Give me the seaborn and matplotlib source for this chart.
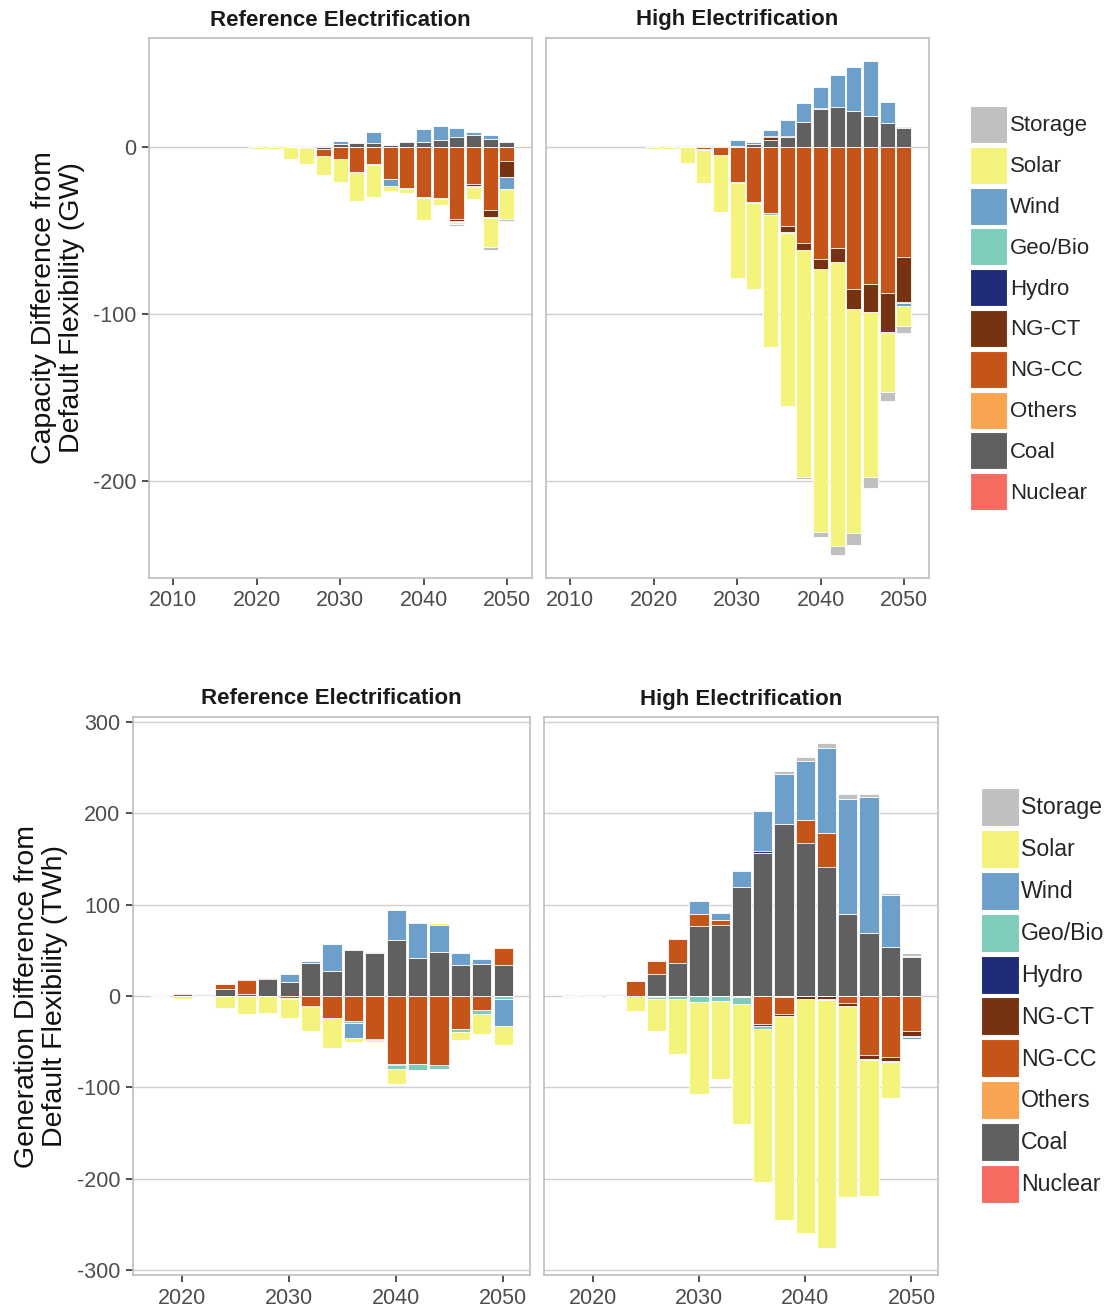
import pandas as pd
import matplotlib
matplotlib.use('Agg')
import matplotlib.pyplot as plt
from matplotlib.patches import Patch
import seaborn as sns

techs = ['Storage', 'Solar', 'Wind', 'Geo/Bio', 'Hydro', 'NG-CT', 'NG-CC', 'Others', 'Coal', 'Nuclear']
tech_colors = ['#C0C0C0', '#F4F47C', '#6CA0CB', '#7ECDBB', '#202C7A',
               '#773311', '#C55418', '#F9A451', '#606060', '#F66A60']

cap_years = list(range(2020, 2051, 2))
gen_years = list(range(2018, 2051, 2))

# capacity difference, reference electrification (GW)
cap_ref_storage = [0, 0, 0, 0, 0, 0, 0, 0, 0, 0, 0, 0, -1.0, 0, -1.8, -1.4]
cap_ref_solar = [-1.2, -1.2, -7.4, -10.0, -11.4, -13.6, -17.0, -19.0, -3.0, -2.6, -13.2, -3.8, -1.4, -7.2, -17.0, -17.8]
cap_ref_wind = [0.2, 0.2, 0, 0.2, 0, 1.8, 0, 6.6, -4.4, 0, 7.4, 8.4, 5.8, 1.8, 2.4, -7.2]
cap_ref_geobio = [0, 0, 0, 0, 0, 0, -0.4, -0.3, 0, -0.4, -0.5, -0.5, -0.4, -0.5, -0.5, -0.3]
cap_ref_hydro = [0, 0, 0, 0, 0, 0, 0, 0, 0, 0, 0, 0, 0, 0.4, 0, 0]
cap_ref_ngct = [0, 0, 0, 0, 0, 0, 0, 0, 0, 0, 0, 0, -1.2, -1.4, -4.6, -9.0]
cap_ref_ngcc = [0, 0, 0, -0.6, -4.0, -7.4, -15.0, -10.6, -19.0, -24.8, -30.0, -30.6, -43.4, -22.0, -37.6, -8.8]
cap_ref_coal = [0, 0, 0, 0, -1.4, 1.6, 2.0, 2.4, 1.2, 2.6, 3.0, 4.0, 5.6, 6.8, 4.6, 2.8]

# capacity difference, high electrification (GW)
cap_high_storage = [0, 0, 0, 0, 0, 0, 0, 0, 0, -1.2, -3.0, -5.0, -7.0, -6.4, -5.0, -4.0]
cap_high_solar = [-1.2, -1.2, -9.6, -19.6, -34.0, -56.8, -51.7, -78.7, -103.2, -135.7, -157.6, -170.0, -134.3, -98.8, -35.9, -12.0]
cap_high_wind = [0, 0, 0, 0, 0, 3.4, 1.0, 3.6, 9.6, 11.2, 12.4, 19.4, 26.4, 32.4, 12.4, -2.0]
cap_high_geobio = [0, 0, 0, -0.4, 0, -0.8, -0.6, -1.2, -0.6, 0, 0, 0, 0, 0, 0, -0.4]
cap_high_hydro = [0, 0, 0, 0, 0, 0, 0, 0.4, 0.4, 0, 0.6, 0, 0, 0, 0, 0.6]
cap_high_ngct = [0, 0, 0, -0.4, 0, 0, 0, 2.0, -3.4, -4.6, -6.0, -8.6, -12.0, -16.6, -23.4, -26.6]
cap_high_ngcc = [0, 0, 0, -1.2, -5.0, -21.1, -32.9, -39.9, -47.5, -57.3, -66.9, -60.3, -84.8, -82.2, -87.4, -66.2]
cap_high_coal = [0, 0, 0.4, 0, 0, 0.6, 1.8, 4.0, 6.0, 14.8, 22.6, 23.6, 21.2, 18.6, 14.2, 11.0]

# generation difference, reference electrification (TWh)
gen_ref_solar = [-0.5, -3.0, -1.5, -13.5, -19.3, -18.6, -20.4, -26.6, -32.8, -4.0, -2.2, -16.4, 0, 2.5, -8.4, -21.1, -20.0]
gen_ref_wind = [0, 1.0, 1.0, 0, 1.0, 0, 8.7, 2.5, 29.9, -16.8, 1.8, 33.5, 38.3, 29.5, 13.8, 5.1, -29.5]
gen_ref_geobio = [0, 0, 0, 0, 0, 0, -0.7, 0, 0, -1.8, 0, -3.6, -6.7, -4.4, -2.9, -4.4, -3.6]
gen_ref_hydro = [0, 0, 0, 0, 0, 0, 0, 0, 0, 0, 0, -1.1, 0, 0, 0, 0, 0]
gen_ref_ngct = [0, 0, 0, 0, 0, 0, 0, -0.6, 0, 0, -0.6, 0, 0, 0, 0, -0.6, 0]
gen_ref_ngcc = [0.5, 2.0, 1.5, 5.8, 15.3, 1.0, -2.5, -10.9, -24.0, -27.7, -47.0, -74.7, -74.0, -75.8, -36.4, -15.0, 18.6]
gen_ref_coal = [0, 0, 0, 7.3, 2.5, 18.6, 15.3, 35.7, 27.3, 50.3, 46.6, 60.8, 41.2, 47.7, 33.5, 35.0, 33.5]

# generation difference, high electrification (TWh)
gen_high_storage = [0, 0, 0, 0.8, 0, 0, 0, 0, 1.5, 1.0, 2.9, 4.4, 5.8, 5.1, 3.6, 2.2, 3.3]
gen_high_solar = [-0.5, -1.0, -1.0, -16.0, -35.0, -60.4, -100.4, -85.1, -130.9, -166.5, -222.5, -255.6, -271.6, -208.0, -149.0, -38.9, 1.5]
gen_high_wind = [0.5, 0, 1.0, 0, 1.5, 0, 14.5, 7.3, 17.5, 44.4, 54.5, 64.7, 93.5, 126.2, 148.0, 57.8, -2.0]
gen_high_geobio = [0, 0, 0, 0, -2.5, -3.3, -6.5, -5.5, -8.0, -4.0, 0, 0, -0.7, 0, -1.0, -0.7, -1.5]
gen_high_hydro = [0, 0, 0, 0, -1.2, 0, 0, 0, 0, 1.5, 0, 0, 0, 0, 0, 0, 0]
gen_high_ngct = [0, 0, 0, 0, 0, 0, 0, 0, 0, -1.5, -2.2, -3.5, -3.6, -3.6, -4.4, -4.7, -5.5]
gen_high_ngcc = [1.0, 1.5, 1.0, 16.4, 14.5, 26.9, 13.1, 5.8, -1.0, -30.9, -19.3, 24.7, 37.1, -7.6, -64.7, -66.9, -38.2]
gen_high_others = [0, 0, 0, 0, 0, 0, 0, 0, 0, 0, -0.7, 0, 0, 0, 0, 0, 0]
gen_high_coal = [0, 0, 0, 0, 23.6, 35.6, 76.4, 77.1, 118.9, 156.7, 188.4, 167.6, 140.7, 89.5, 69.1, 53.1, 42.5]


def draw_stacked(ax, years, panel):
    df = pd.DataFrame(panel, index=years).reindex(columns=techs, fill_value=0.0)
    inner_first = techs[::-1]  # stacking order from zero outward
    for sign in (1, -1):
        part = df.where(df * sign > 0, 0.0)[inner_first]
        cum = part.cumsum(axis=1)
        # draw outermost layer first so inner layers paint over it
        for tech, color in zip(techs, tech_colors):
            if (part[tech] == 0).all():
                continue
            sns.barplot(x=years, y=cum[tech].values, native_scale=True, orient='x',
                        width=0.9, color=color, saturation=1, errorbar=None,
                        edgecolor='white', linewidth=0.6, ax=ax)


def style_axes(ax, xlim, ylim, xticks, yticks, show_y):
    ax.set_xlim(xlim)
    ax.set_ylim(ylim)
    ax.set_xticks(xticks)
    ax.set_xticklabels([str(t) for t in xticks])
    ax.set_yticks(yticks)
    ax.set_yticklabels([str(t) for t in yticks])
    ax.grid(axis='y', color='#D0D0D0', linewidth=1.0)
    ax.grid(axis='x', visible=False)
    ax.set_axisbelow(True)
    for s in ax.spines.values():
        s.set_visible(True)
        s.set_color('#BDBDBD')
        s.set_linewidth(1.2)
    ax.tick_params(axis='both', bottom=True, left=show_y, labelleft=show_y,
                   length=5, width=1.2, color='#333333', labelsize=15.5,
                   labelcolor='#4D4D4D', pad=4)
    ax.set_xlabel('')
    ax.set_ylabel('')


sns.set_theme(style='white')
plt.rcParams['font.family'] = ['Liberation Sans', 'DejaVu Sans']
plt.rcParams['axes.unicode_minus'] = False

W, H = 1107, 1308
fig = plt.figure(figsize=(W / 100, H / 100), dpi=100)

ax_tl = fig.add_axes([149 / W, 1 - 578 / H, 383 / W, 540 / H])
ax_tr = fig.add_axes([546 / W, 1 - 578 / H, 383 / W, 540 / H])
ax_bl = fig.add_axes([133 / W, 1 - 1275 / H, 397 / W, 558 / H])
ax_br = fig.add_axes([544 / W, 1 - 1275 / H, 394 / W, 558 / H])

cap_ref = {'Storage': cap_ref_storage, 'Solar': cap_ref_solar, 'Wind': cap_ref_wind,
           'Geo/Bio': cap_ref_geobio, 'Hydro': cap_ref_hydro, 'NG-CT': cap_ref_ngct,
           'NG-CC': cap_ref_ngcc, 'Coal': cap_ref_coal}
cap_high = {'Storage': cap_high_storage, 'Solar': cap_high_solar, 'Wind': cap_high_wind,
            'Geo/Bio': cap_high_geobio, 'Hydro': cap_high_hydro, 'NG-CT': cap_high_ngct,
            'NG-CC': cap_high_ngcc, 'Coal': cap_high_coal}
gen_ref = {'Solar': gen_ref_solar, 'Wind': gen_ref_wind, 'Geo/Bio': gen_ref_geobio,
           'Hydro': gen_ref_hydro, 'NG-CT': gen_ref_ngct, 'NG-CC': gen_ref_ngcc,
           'Coal': gen_ref_coal}
gen_high = {'Storage': gen_high_storage, 'Solar': gen_high_solar, 'Wind': gen_high_wind,
            'Geo/Bio': gen_high_geobio, 'Hydro': gen_high_hydro, 'NG-CT': gen_high_ngct,
            'NG-CC': gen_high_ngcc, 'Others': gen_high_others, 'Coal': gen_high_coal}

draw_stacked(ax_tl, cap_years, cap_ref)
draw_stacked(ax_tr, cap_years, cap_high)
draw_stacked(ax_bl, gen_years, gen_ref)
draw_stacked(ax_br, gen_years, gen_high)

cap_lim = (-257.8, 65.0)
gen_lim = (-305.0, 305.0)
style_axes(ax_tl, (2007.1, 2053.0), cap_lim, [2010, 2020, 2030, 2040, 2050], [-200, -100, 0], True)
style_axes(ax_tr, (2007.1, 2053.0), cap_lim, [2010, 2020, 2030, 2040, 2050], [-200, -100, 0], False)
style_axes(ax_bl, (2015.4, 2052.5), gen_lim, [2020, 2030, 2040, 2050], [-300, -200, -100, 0, 100, 200, 300], True)
style_axes(ax_br, (2015.4, 2052.5), gen_lim, [2020, 2030, 2040, 2050], [-300, -200, -100, 0, 100, 200, 300], False)

for ax, title in [(ax_tl, 'Reference Electrification'), (ax_tr, 'High Electrification'),
                  (ax_bl, 'Reference Electrification'), (ax_br, 'High Electrification')]:
    ax.set_title(title, fontsize=16, fontweight='bold', color='#1A1A1A', pad=9)

ax_tl.set_ylabel('Capacity Difference from\nDefault Flexibility (GW)', fontsize=20.5,
                 linespacing=1.1, color='#111111')
ax_tl.yaxis.set_label_coords(-0.167, 0.5)
ax_bl.set_ylabel('Generation Difference from\nDefault Flexibility (TWh)', fontsize=20.5,
                 linespacing=1.1, color='#111111')
ax_bl.yaxis.set_label_coords(-0.164, 0.5)

# legend keys: drawn height = fs * (0.65 * handleheight + 0.245)
handles = [Patch(facecolor=c, edgecolor='white', linewidth=0.8) for c in tech_colors]
fig.legend(handles, techs, loc='upper left', bbox_to_anchor=(970 / W, 1 - 106 / H),
           frameon=False, fontsize=16, handlelength=1.67, handleheight=2.19,
           labelspacing=0.167, handletextpad=0.12, borderpad=0, borderaxespad=0)
fig.legend(handles, techs, loc='upper left', bbox_to_anchor=(981 / W, 1 - 788 / H),
           frameon=False, fontsize=16.7, handlelength=1.64, handleheight=2.14,
           labelspacing=0.17, handletextpad=0.1, borderpad=0, borderaxespad=0)

fig.savefig('out.png', dpi=100)
